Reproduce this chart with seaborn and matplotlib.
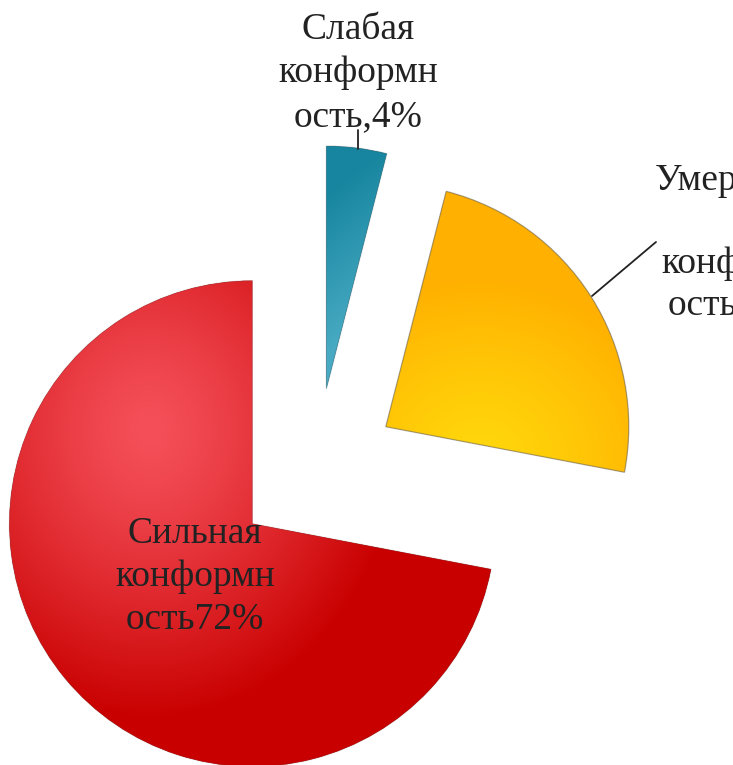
import numpy as np
import matplotlib
matplotlib.use("Agg")
import matplotlib.pyplot as plt
from matplotlib.patches import PathPatch
import seaborn as sns
from matplotlib.colors import to_rgb

# ---- data ----
categories = ["Слабая конформность", "Умеренная конформность", "Сильная конформность"]
values = [4, 24, 72]
label_texts = ["Слабая\nконформн\nость,4%", "Умеренная\n \nконформн\nость,24%", "Сильная\nконформн\nость72%"]
base_colors = ["#1A8AA5", "#FFB400", "#CC0000"]

sns.set_theme(style="white")
plt.rcParams["font.family"] = ["Liberation Serif", "DejaVu Serif"]

W, H = 733, 765
fig = plt.figure(figsize=(W / 100, H / 100), dpi=100)
ax = fig.add_axes([0, 0, 1, 1])
ax.set_axis_off()

R = 243.0
CX, CY = 316.0, 471.0
def px(x, y):
    return ((x - CX) / R, (CY - y) / R)

xmin, xmax = -CX / R, (W - CX) / R
ymin, ymax = (CY - H) / R, CY / R

wedges, _ = ax.pie(values, colors=base_colors, startangle=90, counterclock=False,
                   explode=[0.34, 0.34, 0.34], radius=1.0,
                   wedgeprops=dict(linewidth=0))
ax.set_xlim(xmin, xmax)
ax.set_ylim(ymin, ymax)
ax.set_aspect("equal")

# pixel grid for gradients
gx, gy = np.meshgrid(np.arange(W) + 0.5, np.arange(H) + 0.5)

def mix(c1, c2, t):
    c1 = np.array(to_rgb(c1)); c2 = np.array(to_rgb(c2))
    t = np.clip(t, 0, 1)[..., None]
    return c1 * (1 - t) + c2 * t

# red: glossy radial highlight
d = np.hypot((gx - 150) / 1.0, (gy - 430) / 1.15)
red = mix("#F5505A", "#C90000", (d / 250) ** 1.3)
# yellow: radial light at bottom
d = np.hypot(gx - 480, (gy - 460) * 1.1)
yel = mix("#FFD80C", "#FFB000", (d / 200) ** 1.2)
# blue: linear gradient, darker at top
t = (gy - 190 + (gx - 330) * 0.8) / 160
blu = mix("#17859F", "#48AAC3", t)

for w, img, ec in zip(wedges, [blu, yel, red],
                      [(0.3, 0.3, 0.3, 0.25), (0.4, 0.4, 0.4, 0.55), (0.3, 0.3, 0.3, 0.2)]):
    im = ax.imshow(img, extent=(xmin, xmax, ymin, ymax), origin="upper",
                   interpolation="bilinear", zorder=w.get_zorder() + 0.1)
    im.set_clip_path(w)
    ax.add_patch(PathPatch(w.get_path(), transform=w.get_transform(), fill=False,
                           edgecolor=ec, linewidth=0.9, zorder=w.get_zorder() + 0.2))

fs = 27
tcol = "#222222"
tx, ty = px(358, 73)
ax.text(tx, ty, label_texts[0], ha="center", va="center", fontsize=fs,
        color=tcol, linespacing=1.34, zorder=10)
tx, ty = px(741, 243)
ax.text(tx, ty, label_texts[1], ha="center", va="center", fontsize=fs,
        color=tcol, linespacing=1.26, zorder=10)
tx, ty = px(195, 577)
ax.text(tx, ty, label_texts[2], ha="center", va="center", fontsize=fs,
        color=tcol, linespacing=1.32, zorder=10)

# leader lines
x1, y1 = px(358, 130); x2, y2 = px(358, 149)
ax.plot([x1, x2], [y1, y2], color="#222222", lw=1.3, zorder=9)
x1, y1 = px(592, 296); x2, y2 = px(656, 242)
ax.plot([x1, x2], [y1, y2], color="#222222", lw=1.3, zorder=9)

fig.savefig("out.png", dpi=100)
